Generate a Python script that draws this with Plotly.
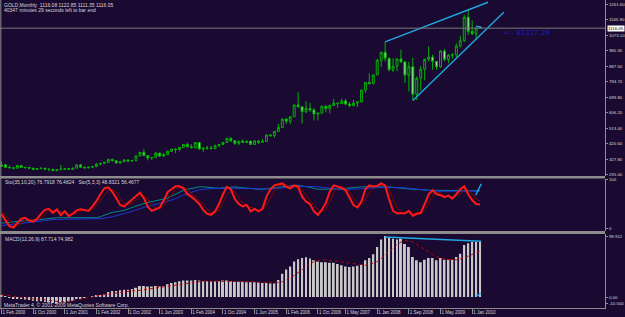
import plotly.graph_objects as go

# ---------------- data ----------------
OPEN = [283, 293, 278, 276, 273, 289, 277, 278, 273, 265, 270,
        273, 266, 267, 258, 264, 267, 270, 266, 273, 293, 279, 275,
        279, 282, 297, 302, 308, 326, 318, 304, 312, 323, 317, 318,
        347, 368, 348, 335, 337, 364, 346, 354, 375, 388, 386, 398,
        416, 402, 397, 427, 388, 394, 395, 391, 408, 416, 428, 453,
        438, 422, 435, 428, 436, 416, 437, 429, 434, 473, 470, 495,
        517, 569, 556, 582, 654, 643, 613, 633, 623, 599, 604, 646,
        632, 650, 665, 662, 678, 659, 650, 665, 672, 743, 789, 783,
        834, 923, 971, 933, 865, 886, 930, 913, 833, 884, 718, 815,
        869, 928, 942, 916, 883, 979, 927, 954, 955, 1008, 1040, 1182,
        1096, 1083, 1116.08]
HIGH = [313, 298, 289, 280, 293, 292, 280, 278, 275, 272, 276,
        273, 269, 268, 265, 293, 274, 272, 278, 294, 294, 284, 281,
        288, 304, 304, 312, 328, 330, 319, 316, 326, 324, 324, 349,
        372, 388, 353, 341, 372, 366, 364, 377, 390, 392, 401, 418,
        427, 418, 428, 430, 395, 407, 409, 416, 419, 430, 456, 458,
        440, 439, 448, 438, 436, 443, 438, 448, 474, 478, 497, 541,
        571, 575, 587, 655, 730, 645, 676, 666, 635, 607, 650, 649,
        657, 690, 668, 692, 690, 672, 684, 677, 746, 790, 845, 838,
        931, 975, 1033, 943, 935, 936, 988, 917, 913, 937, 825, 888,
        933, 1006, 957, 916, 982, 990, 960, 966, 1025, 1071, 1196, 1226,
        1162, 1120, 1122.85]
LOW = [282, 274, 272, 270, 271, 275, 269, 268, 263, 262, 268,
       262, 255, 255, 255, 264, 265, 264, 265, 271, 275, 271, 272,
       276, 280, 289, 299, 305, 314, 301, 301, 311, 309, 313, 316,
       344, 347, 320, 322, 337, 340, 341, 353, 372, 365, 376, 397,
       398, 391, 392, 384, 371, 383, 386, 387, 399, 412, 427, 430,
       414, 411, 425, 423, 414, 413, 418, 429, 433, 461, 456, 491,
       517, 538, 538, 582, 636, 543, 605, 612, 561, 560, 604, 610,
       603, 650, 636, 659, 652, 640, 646, 642, 671, 727, 776, 777,
       833, 883, 915, 856, 853, 857, 906, 786, 735, 681, 683, 741,
       802, 915, 866, 866, 876, 917, 905, 932, 942, 1000, 1034, 1076,
       1074, 1044, 1111.35]
CLOSE = [293, 278, 276, 273, 289, 277, 278, 273, 265, 270, 273,
         266, 267, 258, 264, 267, 270, 266, 273, 293, 279, 275, 279,
         282, 297, 302, 308, 326, 318, 304, 312, 323, 317, 318, 347,
         368, 348, 335, 337, 364, 346, 354, 375, 388, 386, 398, 416,
         402, 397, 427, 388, 394, 395, 391, 408, 416, 428, 453, 438,
         422, 435, 428, 436, 416, 437, 429, 434, 473, 470, 495, 517,
         569, 556, 582, 654, 643, 613, 633, 623, 599, 604, 646, 632,
         650, 665, 662, 678, 659, 650, 665, 672, 743, 789, 783, 834,
         923, 971, 933, 865, 886, 930, 913, 833, 884, 718, 815, 869,
         928, 942, 916, 883, 979, 927, 954, 955, 1008, 1040, 1182, 1096,
         1083, 1116, 1116.05]

STOCH_FAST_K = [29, 18, 5, 2, 10, 20, 22, 16, 14, 20,
                30, 38, 40, 32, 39, 27, 35, 25, 30, 37,
                39, 37, 36, 45, 56, 70, 82, 84, 75, 62,
                48, 45, 52, 58, 66, 73, 62, 44, 36, 40,
                43, 57, 74, 80, 86, 86, 82, 70, 65, 58,
                50, 38, 30, 28, 35, 50, 70, 85, 80, 60,
                50, 45, 48, 35, 40, 35, 40, 65, 80, 88,
                90, 92, 85, 82, 88, 85, 65, 55, 50, 35,
                28, 38, 52, 75, 88, 86, 83, 78, 62, 48,
                43, 55, 80, 88, 86, 87, 92, 88, 60, 36,
                31, 31, 31, 36, 26, 30, 32, 50, 70, 78,
                70, 68, 64, 67, 61, 70, 80, 86, 70, 58,
                50, 48.83]
STOCH_FAST_D = [35, 27, 17, 8, 6, 11, 17, 19, 17, 17,
                21, 29, 36, 37, 37, 33, 34, 29, 30, 31,
                35, 38, 37, 39, 46, 57, 69, 79, 80, 74,
                62, 52, 48, 52, 59, 66, 67, 60, 47, 40,
                40, 47, 58, 70, 80, 84, 85, 79, 72, 64,
                58, 49, 39, 32, 31, 38, 52, 68, 78, 75,
                63, 52, 48, 43, 41, 37, 38, 47, 62, 78,
                86, 90, 89, 86, 85, 85, 79, 68, 57, 47,
                38, 34, 39, 55, 72, 83, 86, 82, 74, 63,
                51, 49, 59, 74, 85, 87, 88, 89, 80, 61,
                42, 33, 31, 33, 31, 31, 29, 37, 51, 66,
                73, 72, 67, 66, 64, 66, 70, 79, 79, 71,
                59, 56.47]
STOCH_SLOW_K = [11, 12, 13, 13, 14, 15, 16, 16, 17, 17,
                18, 19, 20, 21, 22, 22, 22, 22, 22, 22,
                21, 21, 21, 21, 22, 24, 27, 30, 33, 34,
                35, 37, 40, 43, 46, 49, 51, 53, 55, 56,
                58, 60, 62, 66, 70, 74, 78, 80, 82, 84,
                85, 85, 84, 83, 82, 82, 83, 84, 85, 85,
                84, 83, 82, 81, 80, 80, 80, 81, 82, 84,
                85, 86, 87, 87, 88, 88, 87, 86, 84, 82,
                80, 80, 80, 80, 80, 80, 81, 82, 83, 84,
                85, 85, 85, 85, 85, 86, 86, 86, 85, 84,
                83, 82, 81, 81, 80, 80, 79, 79, 78, 78,
                78, 78, 78, 78, 78, 78, 77, 77, 77, 77,
                77, 76.79]
STOCH_SLOW_D = [6, 7, 8, 9, 10, 11, 12, 13, 14, 14,
                15, 16, 17, 18, 18, 19, 19, 19, 19, 19,
                19, 20, 20, 20, 20, 20, 21, 22, 24, 26,
                28, 30, 32, 35, 38, 41, 43, 45, 47, 49,
                51, 53, 55, 58, 61, 65, 68, 71, 74, 77,
                79, 80, 81, 82, 82, 82, 82, 82, 82, 83,
                83, 83, 82, 82, 81, 81, 80, 80, 81, 81,
                82, 83, 84, 85, 86, 86, 86, 86, 86, 85,
                85, 84, 83, 82, 81, 80, 80, 80, 80, 80,
                81, 81, 82, 82, 83, 83, 84, 84, 84, 84,
                84, 83, 83, 82, 81, 80, 80, 79, 78, 77,
                76, 76, 76, 76, 76, 76, 76, 76, 76, 76,
                76.5, 76.48]
MACD_HIST = [2, 1, -1, -2, -2, -3, -4, -5, -6, -7,
             -7, -8, -9, -10, -10.5, -9, -9, -8, -6, -3,
             -2, -1, 0, 1, 2, 3, 5, 8, 10, 10,
             11, 12, 12, 13, 15, 18, 18, 17, 17, 18,
             17, 18, 21, 23, 24, 26, 27, 27, 27, 28,
             27, 26, 26, 26, 26, 26, 27, 27, 26, 25,
             25, 25, 24, 24, 24, 24, 23, 23, 22, 22,
             28, 38, 45, 50, 58, 62, 64, 65, 63, 60,
             58, 57, 57, 56, 56, 54, 52, 50, 49, 50,
             51, 53, 60, 64, 70, 82, 94, 99.9, 97, 95.5,
             94, 95.5, 87, 82, 65.5, 60, 57, 61, 64, 64,
             60, 64, 61, 61, 61, 65.5, 71, 85, 88, 90,
             90, 91]
MACD_SIGNAL = [4, 3, 3, 2, 1, 0, -1, -2, -3, -4,
               -4, -5, -6, -7, -8, -8, -8, -7, -6, -5,
               -4, -3, -2, 0, 2, 3, 4, 5, 6, 7,
               8, 9, 9, 10, 10, 11, 12, 13, 14, 15,
               16, 17, 17, 18, 19, 20, 21, 22, 24, 25,
               26, 26, 26, 26, 26, 26, 26, 26, 26, 26,
               26, 26, 25, 25, 25, 24, 24, 24, 23, 23,
               24, 25, 28, 31, 35, 40, 45, 50, 54, 58,
               60, 61, 61, 60, 59, 58, 57, 56, 55, 54,
               53, 52, 52, 53, 55, 58, 63, 69, 75, 81,
               86, 90, 92, 92, 90, 86, 82, 78, 73, 69,
               66, 63, 62, 61, 61, 61, 62, 64, 67, 70,
               73, 74.98]

# drawn trend lines: (bar index, value)
TREND_UPPER = ([97, 123], [1033, 1272])
TREND_LOWER = ([104, 127], [681, 1212])
TREND_PRICE_MARK = ([120, 121.5], [1128, 1121])
TREND_STOCH = ([119.9, 121.3], [68, 91])
TREND_MACD_TOP = ([96.9, 121.3], [98.3, 91.3])
TREND_MACD_BOT = ([120, 121.3], [1, 6.5])

PRICE_TICKS = [1261.60, 1165.90, 1073.10, 980.30, 887.50, 794.70, 699.80,
               606.20, 513.40, 420.60, 327.80, 235.00]
LAST_PRICE = 1116.05
STOCH_TICKS = [100, 0]
MACD_TICKS = [99.912, 0.0, -10.5]
MACD_TICK_TEXT = ["99.912", "0.00", "-10.500"]

X_TICK_IDX = [0, 8, 16, 24, 32, 40, 48, 56, 64, 72, 80, 87, 95, 103, 111, 119]
X_TICK_TEXT = ["1 Feb 2000", "1 Oct 2000", "1 Jun 2001", "1 Feb 2002", "1 Oct 2002",
               "1 Jun 2003", "1 Feb 2004", "1 Oct 2004", "1 Jun 2005", "1 Feb 2006",
               "1 Oct 2006", "1 May 2007", "1 Jan 2008", "1 Sep 2008", "1 May 2009",
               "1 Jan 2010"]

# ---------------- style ----------------
BG = "#1a0930"
GRAY = "#8c8c8c"
TXT = "#d8d8d8"
CYAN = "#1ea8e0"
FONT = "Liberation Sans"
W, H = 625, 317
ML, MR, MT, MB = 0, 20, 0, 9
PH = H - MT - MB  # plot height in px
PW = W - ML - MR
BAR_PX = 3.955     # horizontal pixels per monthly bar
FIRST_BAR_PX = 1.5


def py(px):
    return (PH - px) / PH


def pxx(px):
    return px / PW


idx = list(range(len(CLOSE)))

fig = go.Figure()

fig.add_trace(go.Candlestick(
    x=idx, open=OPEN, high=HIGH, low=LOW, close=CLOSE,
    increasing=dict(line=dict(color="#00b400", width=1), fillcolor=BG),
    decreasing=dict(line=dict(color="#00b400", width=1), fillcolor="#b4f5b4"),
    whiskerwidth=0, xaxis="x", yaxis="y", showlegend=False, hoverinfo="skip"))

for (xs, ys) in (TREND_UPPER, TREND_LOWER, TREND_PRICE_MARK):
    fig.add_trace(go.Scatter(x=xs, y=ys, mode="lines", line=dict(color=CYAN, width=1.4),
                             xaxis="x", yaxis="y", showlegend=False, hoverinfo="skip"))

# stochastic pane
fig.add_trace(go.Scatter(x=idx, y=STOCH_SLOW_K, mode="lines", line=dict(color="#008c8c", width=1),
                         xaxis="x", yaxis="y2", showlegend=False, hoverinfo="skip"))
fig.add_trace(go.Scatter(x=idx, y=STOCH_SLOW_D, mode="lines", line=dict(color="#1a3ad8", width=1),
                         xaxis="x", yaxis="y2", showlegend=False, hoverinfo="skip"))
fig.add_trace(go.Scatter(x=idx, y=STOCH_FAST_D, mode="lines", line=dict(color="#8b0000", width=1),
                         xaxis="x", yaxis="y2", showlegend=False, hoverinfo="skip"))
fig.add_trace(go.Scatter(x=idx, y=STOCH_FAST_K, mode="lines", line=dict(color="#ff1a1a", width=2),
                         xaxis="x", yaxis="y2", showlegend=False, hoverinfo="skip"))
fig.add_trace(go.Scatter(x=TREND_STOCH[0], y=TREND_STOCH[1], mode="lines",
                         line=dict(color=CYAN, width=1.4),
                         xaxis="x", yaxis="y2", showlegend=False, hoverinfo="skip"))

# MACD pane
fig.add_trace(go.Bar(x=idx, y=MACD_HIST, marker=dict(color="#c8c8c8", line=dict(width=0)),
                     xaxis="x", yaxis="y3", showlegend=False, hoverinfo="skip"))
fig.add_trace(go.Scatter(x=idx, y=MACD_SIGNAL, mode="lines",
                         line=dict(color="#c80000", width=1, dash="dot"),
                         xaxis="x", yaxis="y3", showlegend=False, hoverinfo="skip"))
for (xs, ys) in (TREND_MACD_TOP, TREND_MACD_BOT):
    fig.add_trace(go.Scatter(x=xs, y=ys, mode="lines", line=dict(color=CYAN, width=1.4),
                             xaxis="x", yaxis="y3", showlegend=False, hoverinfo="skip"))

# pane pixel geometry
MAIN_TOP, MAIN_BOT = 0, 176
ST_TOP, ST_BOT = 178.5, 231
MC_TOP, MC_BOT = 234, 307.5

# value->pixel calibrations
main_k = 170.5 / (PRICE_TICKS[0] - PRICE_TICKS[-1])
main_hi = PRICE_TICKS[0] + 4 / main_k
main_lo = main_hi - (MAIN_BOT - MAIN_TOP) / main_k
st_k = 0.49
st_hi = 100 + (179.5 - ST_TOP) / st_k
st_lo = -(ST_BOT - 228.5) / st_k
mc_k = 61 / MACD_TICKS[0]
mc_hi = (297 - MC_TOP) / mc_k
mc_lo = -(MC_BOT - 297) / mc_k

x_lo = -FIRST_BAR_PX / BAR_PX
x_hi = x_lo + PW / BAR_PX

axis_font = dict(family=FONT, size=4.4, color=TXT)
common_y = dict(side="right", showgrid=False, zeroline=False, showline=True, linecolor=GRAY,
                linewidth=1, ticks="outside", ticklen=2, tickcolor=GRAY, tickfont=axis_font,
                anchor="x", fixedrange=True, automargin=False)

fig.update_layout(
    width=W, height=H,
    margin=dict(l=ML, r=MR, t=MT, b=MB, pad=0, autoexpand=False),
    paper_bgcolor=BG, plot_bgcolor=BG,
    bargap=0.5,
    xaxis=dict(range=[x_lo, x_hi], showgrid=False, zeroline=False, showline=True,
               linecolor=GRAY, linewidth=1, anchor="y3", rangeslider=dict(visible=False),
               tickmode="array", tickvals=X_TICK_IDX, ticktext=X_TICK_TEXT,
               ticks="outside", ticklen=5, tickcolor=GRAY, tickangle=0,
               ticklabelposition="outside right", automargin=False,
               tickfont=dict(family=FONT, size=4.5, color=TXT)),
    yaxis=dict(domain=[py(MAIN_BOT), py(MAIN_TOP)], range=[main_lo, main_hi],
               tickmode="array", tickvals=PRICE_TICKS,
               ticktext=[f"{v:.2f}" for v in PRICE_TICKS], **common_y),
    yaxis2=dict(domain=[py(ST_BOT), py(ST_TOP)], range=[st_lo, st_hi],
                tickmode="array", tickvals=STOCH_TICKS, ticktext=[str(v) for v in STOCH_TICKS],
                **common_y),
    yaxis3=dict(domain=[py(MC_BOT), py(MC_TOP)], range=[mc_lo, mc_hi],
                tickmode="array", tickvals=MACD_TICKS, ticktext=MACD_TICK_TEXT, **common_y),
)

shapes = [
    # current price line
    dict(type="line", xref="paper", yref="y", x0=0, x1=1, y0=LAST_PRICE, y1=LAST_PRICE,
         line=dict(color="#7a7a7a", width=1)),
    # pane separators
    dict(type="rect", xref="paper", yref="paper", x0=0, x1=1.0,
         y0=py(ST_TOP), y1=py(MAIN_BOT), line=dict(width=0), fillcolor=GRAY),
    dict(type="rect", xref="paper", yref="paper", x0=0, x1=1.0,
         y0=py(MC_TOP), y1=py(ST_BOT), line=dict(width=0), fillcolor=GRAY),
    # left frame
    dict(type="line", xref="paper", yref="paper", x0=pxx(0.8), x1=pxx(0.8), y0=0, y1=1,
         line=dict(color=GRAY, width=1)),
]
fig.update_layout(shapes=shapes)

small = dict(family=FONT, size=5, color=TXT)
ann = [
    dict(text="GOLD,Monthly  1116.08 1122.85 1111.35 1116.05", x=pxx(2), y=py(5)),
    dict(text="40347 minutes 29 seconds left to bar end", x=pxx(2), y=py(10)),
    dict(text="Sto(35,10,20) 76.7918 76.4824   Sto(5,3,3) 48.8321 56.4677", x=pxx(3), y=py(182.5)),
    dict(text="MACD(12,26,9) 87.714 74.982", x=pxx(3), y=py(238.5)),
    dict(text="MetaTrader 4, © 2001-2009 MetaQuotes Software Corp.", x=pxx(2), y=py(304.5)),
]
annotations = []
for a in ann:
    annotations.append(dict(text=a["text"], x=a["x"], y=a["y"], xref="paper", yref="paper",
                            xanchor="left", yanchor="middle", showarrow=False, font=small))
annotations.append(dict(text="<-- 81317.29", x=pxx(502), y=py(33), xref="paper", yref="paper",
                        xanchor="left", yanchor="middle", showarrow=False,
                        font=dict(family=FONT, size=8, color="#1c1cc8")))
annotations.append(dict(text=f"{LAST_PRICE:.2f}", x=1, y=LAST_PRICE, xref="paper", yref="y",
                        xanchor="left", yanchor="middle", xshift=2, showarrow=False,
                        bgcolor="#ffffff", borderpad=0,
                        font=dict(family=FONT, size=4.4, color="#000000")))
fig.update_layout(annotations=annotations)

fig.write_html("out.html")
